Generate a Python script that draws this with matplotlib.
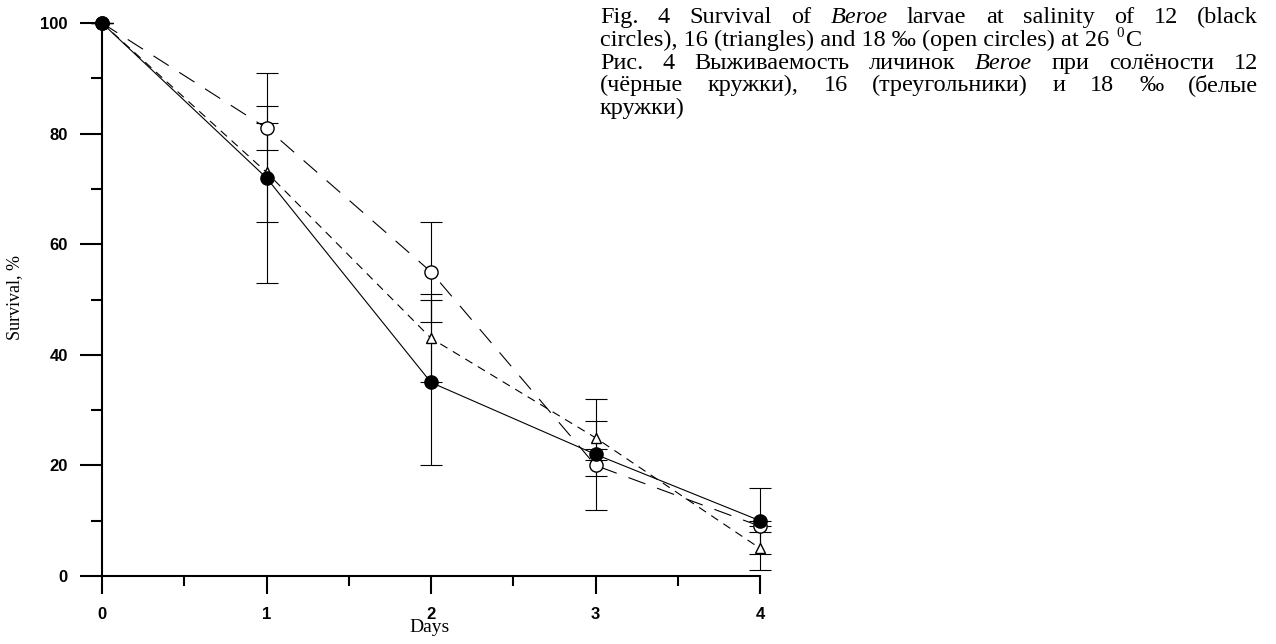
import matplotlib
matplotlib.use('Agg')
import matplotlib.pyplot as plt
from matplotlib.ticker import MultipleLocator, FixedLocator

# ---- data ----
days = [0, 1, 2, 3, 4]
day_labels = ['0', '1', '2', '3', '4']
surv_12 = [100, 72, 35, 22, 10]   # black circles
err_12 = [0, 19, 15, 1, 6]
surv_16 = [100, 73, 43, 25, 5]    # triangles
err_16 = [0, 9, 8, 7, 4]
surv_18 = [100, 81, 55, 20, 9]    # open circles
err_18 = [0, 4, 9, 8, 1]

plt.rcParams['lines.scale_dashes'] = False
W, H = 1276, 644
fig = plt.figure(figsize=(W / 100, H / 100), dpi=100)
ax = fig.add_axes([102 / W, (H - 576) / H, (760 - 102) / W, (576 - 23) / H])

eb_kw = dict(fmt='none', ecolor='black', elinewidth=0.8, capsize=8, capthick=0.8, clip_on=False, zorder=2)
for y, e in [(surv_16, err_16), (surv_18, err_18), (surv_12, err_12)]:
    ebc = ax.errorbar(days, y, yerr=e, **eb_kw)
    for art in list(ebc.lines[1]) + list(ebc.lines[2]):
        art.set_clip_on(False)

ax.plot(days, surv_16, linestyle=(0, (6, 4.5)), color='black', lw=0.8,
        marker='^', ms=7, mfc='white', mec='black', mew=1.0, clip_on=False, zorder=3)
ax.plot(days, surv_18, linestyle=(0, (13, 9)), color='black', lw=0.8,
        marker='o', ms=9.5, mfc='white', mec='black', mew=1.0, clip_on=False, zorder=4)
ax.plot(days, surv_12, linestyle='-', color='black', lw=0.8,
        marker='o', ms=9.5, mfc='black', mec='black', clip_on=False, zorder=5)

ax.set_xlim(0, 4)
ax.set_ylim(0, 100)
for s in ['top', 'right']:
    ax.spines[s].set_visible(False)
for s in ['left', 'bottom']:
    ax.spines[s].set_linewidth(1.5)

ax.xaxis.set_major_locator(FixedLocator(days))
ax.set_xticklabels(day_labels)
ax.xaxis.set_minor_locator(MultipleLocator(0.5))
ax.yaxis.set_major_locator(MultipleLocator(20))
ax.yaxis.set_minor_locator(MultipleLocator(10))
ax.tick_params(axis='y', which='major', direction='out', length=16, width=1.5, pad=8.5)
ax.tick_params(axis='y', which='minor', direction='out', length=8, width=1.5)
ax.tick_params(axis='x', which='major', direction='out', length=13, width=1.5, pad=9)
ax.tick_params(axis='x', which='minor', direction='out', length=7, width=1.5)
for lab in ax.get_xticklabels() + ax.get_yticklabels():
    lab.set_fontfamily('Liberation Sans')
    lab.set_fontweight('bold')
    lab.set_fontsize(12)

fig.text(15 / W, 1 - 298 / H, 'Survival, %', rotation=90, family='Liberation Serif',
         fontsize=13, ha='center', va='center')
fig.text(430 / W, 1 - 628 / H, 'Days', family='Liberation Serif',
         fontsize=14, ha='center', va='center')

# ---- caption (justified) ----
FS = 17.5
renderer = fig.canvas.get_renderer()


def put(x, ybase, s, style='normal', size=FS):
    t = fig.text(x / W, 1 - ybase / H, s, family='Liberation Serif', fontstyle=style,
                 fontsize=size, ha='left', va='baseline')
    bb = t.get_window_extent(renderer)
    return t, bb.width


def justified(words, ybase, x0=600, x1=1258):
    items = [put(0, ybase, w, st) for w, st in words]
    total = sum(w for _, w in items)
    gap = (x1 - x0 - total) / (len(items) - 1)
    x = x0
    for t, w in items:
        t.set_x(x / W)
        x += w + gap


n, i = 'normal', 'italic'
justified([('Fig.', n), ('4', n), ('Survival', n), ('of', n), ('Beroe', i), ('larvae', n),
           ('at', n), ('salinity', n), ('of', n), ('12', n), ('(black', n)], 23)
t, w = put(600, 46, 'circles), 16 (triangles) and 18 \u2030 (open circles) at 26')
x = 600 + w + 7
t0, w0 = put(x, 46 - 9, '0', size=FS * 0.62)
put(x + w0 + 2, 46, 'C')
justified([('Рис.', n), ('4', n), ('Выживаемость', n), ('личинок', n), ('Beroe', i),
           ('при', n), ('солёности', n), ('12', n)], 68.7)
justified([('(чёрные', n), ('кружки),', n), ('16', n), ('(треугольники)', n), ('и', n),
           ('18', n), ('\u2030', n), ('(белые', n)], 91.4)
put(600, 114, 'кружки)')

fig.savefig('out.png', dpi=100)
